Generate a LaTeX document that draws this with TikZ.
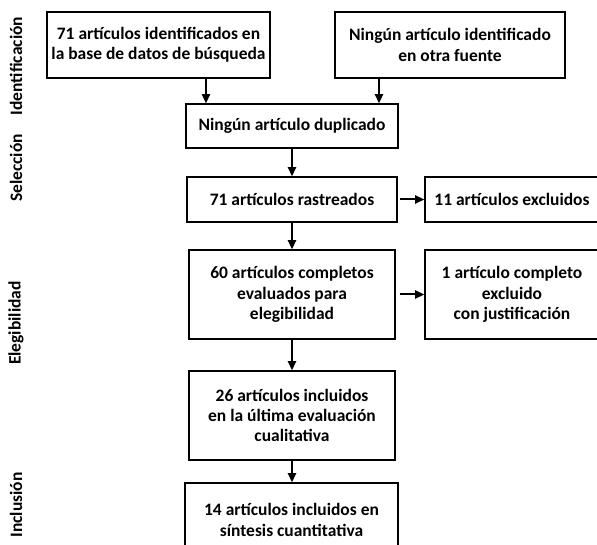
\documentclass[tikz,border=0pt]{standalone}
\usepackage{fontspec}
\setmainfont{Carlito}
\usepackage{tikz}
\usetikzlibrary{arrows.meta}
\usetikzlibrary{positioning}

\begin{document}
\begin{tikzpicture}[x=0.75pt, y=-0.75pt,
    every node/.style={font=\fontsize{13.1}{15.3}\selectfont\bfseries},
    box/.style={draw, line width=0.8pt, inner sep=0pt, align=center},
    phase/.style={rotate=90, anchor=center},
    arr/.style={line width=1.5pt, -{Triangle[length=7pt, width=6pt]}}]

\useasboundingbox (0,0) rectangle (597,545);
\clip (0,0) rectangle (597,545);

% boxes
\node[box, minimum width=167.25pt, minimum height=49.5pt] (ident1) at (158.5,45)
  {71 artículos identificados en\\la base de datos de búsqueda};
\node[box, minimum width=172.5pt, minimum height=49.5pt] (ident2) at (450,45)
  {Ningún artículo identificado\\en otra fuente};
\node[box, minimum width=159pt, minimum height=33pt] (dupl) at (292,126)
  {Ningún artículo duplicado};
\node[box, minimum width=157.5pt, minimum height=33.75pt] (rastr) at (292,199.5)
  {71 artículos rastreados};
\node[box, minimum width=130.5pt, minimum height=33.75pt] (excl1) at (512,199.5)
  {11 artículos excluidos};
\node[box, minimum width=154.5pt, minimum height=66.75pt] (eleg) at (292,294.5)
  {60 artículos completos\\evaluados para\\elegibilidad};
\node[box, minimum width=130.5pt, minimum height=66.75pt] (excl2) at (512,294.5)
  {1 artículo completo\\excluido\\con justificación};
\node[box, minimum width=154.5pt, minimum height=66.75pt] (cual) at (292,415.5)
  {26 artículos incluidos\\en la última evaluación\\cualitativa};
\node[box, minimum width=159.75pt, minimum height=55.5pt] (cuant) at (291.5,520)
  {14 artículos incluidos en\\síntesis cuantitativa};

% phases
\node[phase] (p1) at (16,66) {Identificación};
\node[phase] (p2) at (16,168) {Selección};
\node[phase] (p3) at (16,323) {Elegibilidad};
\node[phase] (p4) at (16,505) {Inclusión};

% arrows
\coordinate (a1) at ([xshift=35.6pt]ident1.south);
\coordinate (a2) at ([xshift=-53.25pt]ident2.south);
\draw[arr] (a1) -- (a1 |- dupl.north);
\draw[arr] (a2) -- (a2 |- dupl.north);
\draw[arr] (dupl) -- (rastr);
\draw[arr] ([xshift=1.5pt]rastr.east) -- (excl1.west |- rastr.east);
\draw[arr] (rastr) -- (eleg);
\draw[arr] ([xshift=3pt]eleg.east) -- (excl2.west |- eleg.east);
\draw[arr] (eleg) -- (cual);
\draw[arr] (cual) -- (cual.south |- cuant.north);
\end{tikzpicture}
\end{document}
